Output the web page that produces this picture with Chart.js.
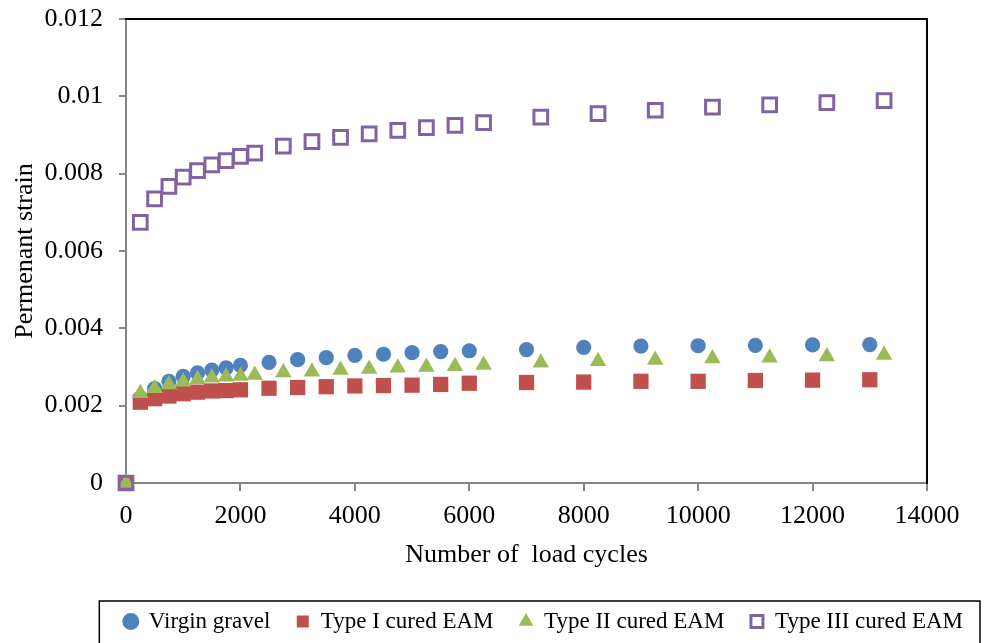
<!DOCTYPE html>
<html>
<head>
<meta charset="utf-8">
<title>Permanent strain</title>
<script src="https://cdn.jsdelivr.net/npm/chart.js@4/dist/chart.umd.min.js"></script>
<style>
  html, body { margin: 0; padding: 0; background: #fff; }
</style>
</head>
<body>
<canvas id="strainChart" width="989" height="643"></canvas>
<script>
// load cycles (virgin gravel + type I share one set, type II + III another)
const cyclesA = [0, 250, 500, 750, 1000, 1250, 1500, 1750, 2000, 2500, 3000, 3500, 4000, 4500, 5000, 5500, 6000, 7000, 8000, 9000, 10000, 11000, 12000, 13000];
const cyclesB = [0, 250, 500, 750, 1000, 1250, 1500, 1750, 2000, 2250, 2750, 3250, 3750, 4250, 4750, 5250, 5750, 6250, 7250, 8250, 9250, 10250, 11250, 12250, 13250];

const virginGravel = [0, 0.0022, 0.00244, 0.00263, 0.00276, 0.00285, 0.00292, 0.00298, 0.00304, 0.00312, 0.00319, 0.00324, 0.0033, 0.00333, 0.00337, 0.0034, 0.00342, 0.00345, 0.00351, 0.00354, 0.00355, 0.00356, 0.00357, 0.00358];
const typeI = [0, 0.00209, 0.00218, 0.00225, 0.00231, 0.00235, 0.00238, 0.00239, 0.00241, 0.00245, 0.00247, 0.00249, 0.00251, 0.00252, 0.00253, 0.00255, 0.00258, 0.0026, 0.00261, 0.00263, 0.00263, 0.00265, 0.00266, 0.00267];
const typeII = [0, 0.00232, 0.00245, 0.00255, 0.00262, 0.00268, 0.00272, 0.00275, 0.00277, 0.00279, 0.00286, 0.00288, 0.00292, 0.00295, 0.00298, 0.003, 0.00302, 0.00305, 0.00311, 0.00315, 0.00318, 0.00322, 0.00324, 0.00327, 0.00331];
const typeIII = [0, 0.00674, 0.00735, 0.00767, 0.00791, 0.00808, 0.00823, 0.00834, 0.00845, 0.00853, 0.00871, 0.00883, 0.00894, 0.00903, 0.00912, 0.00919, 0.00925, 0.00932, 0.00946, 0.00955, 0.00964, 0.00972, 0.00978, 0.00984, 0.00989];

const seriesNames = ["Virgin gravel", "Type I cured EAM", "Type II cured EAM", "Type III cured EAM"];
const xTickLabels = ["0", "2000", "4000", "6000", "8000", "10000", "12000", "14000"];
const yTickLabels = ["0", "0.002", "0.004", "0.006", "0.008", "0.01", "0.012"];
const xStep = 2000;
const yStep = 0.002;

const serif = '"Liberation Serif", "Times New Roman", serif';
const axisGray = "#868686";

function toPoints(xs, ys) {
  return ys.map((y, i) => ({ x: xs[i], y: y }));
}

// box drawn round the legend, like the spreadsheet original
const legendFrame = {
  id: "legendFrame",
  afterDraw(chart) {
    const boxes = chart.legend && chart.legend.legendHitBoxes;
    if (!boxes || !boxes.length) return;
    const first = boxes[0];
    const last = boxes[boxes.length - 1];
    const left = first.left - 25;
    const right = Math.min(last.left + last.width + 17, chart.width - 3);
    const c = chart.ctx;
    c.save();
    c.strokeStyle = "#000";
    c.lineWidth = 1.5;
    c.strokeRect(left, first.top - 9, right - left, chart.height);
    c.restore();
  }
};

const data = {
  datasets: [
    {
      label: seriesNames[0],
      data: toPoints(cyclesA, virginGravel),
      pointStyle: "circle",
      pointRadius: 7.6,
      backgroundColor: "#4F81BD",
      borderColor: "#4F81BD",
      borderWidth: 0,
      order: 3,
      clip: false,
    },
    {
      label: seriesNames[1],
      data: toPoints(cyclesA, typeI),
      pointStyle: "rect",
      pointRadius: 10.8,
      backgroundColor: "#C0504D",
      borderColor: "#C0504D",
      borderWidth: 0,
      order: 2,
      clip: false,
    },
    {
      label: seriesNames[2],
      data: toPoints(cyclesB, typeII),
      pointStyle: "triangle",
      pointRadius: 9.5,
      backgroundColor: "#9BBB59",
      borderColor: "#9BBB59",
      borderWidth: 0,
      order: 1,
      clip: false,
    },
    {
      label: seriesNames[3],
      data: toPoints(cyclesB, typeIII),
      pointStyle: "rect",
      pointRadius: 9.7,
      backgroundColor: "rgba(255,255,255,0)",
      borderColor: "#8064A2",
      borderWidth: 3,
      order: 0,
      clip: false,
    },
  ],
};

const options = {
  responsive: false,
  animation: false,
  layout: { padding: 0 },
  plugins: {
    tooltip: { enabled: false },
    legend: {
      position: "bottom",
      align: "end",
      labels: {
        usePointStyle: true,
        boxWidth: 13,
        boxHeight: 12,
        padding: 26,
        color: "#000",
        font: { family: serif, size: 23 },
        sort: (a, b) => a.datasetIndex - b.datasetIndex,
      },
    },
  },
  scales: {
    x: {
      type: "linear",
      position: "bottom",
      min: 0,
      max: 14000,
      ticks: {
        stepSize: xStep,
        padding: 10,
        color: "#000",
        maxRotation: 0,
        font: { family: serif, size: 26 },
        callback: (v) => xTickLabels[Math.round(v / xStep)],
      },
      grid: { drawOnChartArea: false, tickLength: 8, color: axisGray, lineWidth: 2 },
      border: { color: axisGray, width: 2 },
      title: {
        display: true,
        text: "Number of  load cycles",
        color: "#000",
        font: { family: serif, size: 26 },
        padding: { top: 0, bottom: 13 },
      },
      afterFit: (s) => { s.height = 101; },
    },
    y: {
      type: "linear",
      position: "left",
      min: 0,
      max: 0.012,
      ticks: {
        stepSize: yStep,
        padding: 16,
        color: "#000",
        font: { family: serif, size: 26 },
        callback: (v) => yTickLabels[Math.round(v / yStep)],
      },
      grid: { drawOnChartArea: false, tickLength: 7, color: axisGray, lineWidth: 2 },
      border: { color: axisGray, width: 2 },
      title: {
        display: true,
        text: "Permenant strain",
        color: "#000",
        font: { family: serif, size: 26 },
        padding: { top: 10, bottom: 0 },
      },
      afterFit: (s) => {
        s.width = 126;
        // the tick padding would otherwise push the plot top down
        s.paddingTop = 10;
        s.paddingBottom = 10;
      },
    },
    // empty axes only used for the black frame on top and right
    x2: {
      type: "linear",
      position: "top",
      ticks: { display: false },
      grid: { display: false },
      border: { color: "#000", width: 2 },
      afterFit: (s) => { s.height = 19; },
    },
    y2: {
      type: "linear",
      position: "right",
      ticks: { display: false },
      grid: { display: false },
      border: { color: "#000", width: 2 },
      afterFit: (s) => { s.width = 62; },
    },
  },
};

new Chart(document.getElementById("strainChart"), {
  type: "scatter",
  data: data,
  options: options,
  plugins: [legendFrame],
});
</script>
</body>
</html>
